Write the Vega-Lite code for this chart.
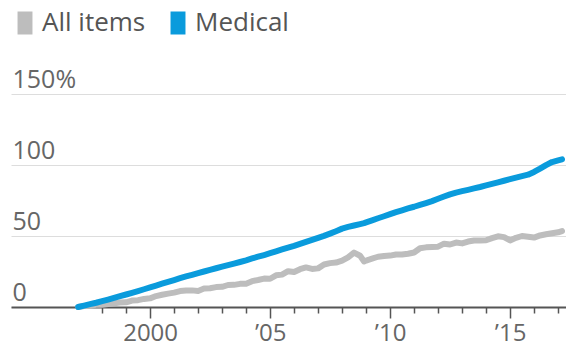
{
  "$schema": "https://vega.github.io/schema/vega-lite/v6.json",
  "width": 555,
  "height": 213,
  "autosize": {"type": "none"},
  "padding": {"left": 11, "top": 94, "right": 0, "bottom": 39},
  "background": "#ffffff",
  "config": {
    "view": {"stroke": null},
    "font": "Open Sans"
  },
  "data": {
    "values": [
      {"date": "1997-01-01", "All items": 0.0, "Medical": 0.0},
      {"date": "1997-04-01", "All items": 0.7, "Medical": 1.0},
      {"date": "1997-07-01", "All items": 0.9, "Medical": 2.0},
      {"date": "1997-10-01", "All items": 1.6, "Medical": 3.0},
      {"date": "1998-01-01", "All items": 1.6, "Medical": 4.1},
      {"date": "1998-04-01", "All items": 2.1, "Medical": 5.2},
      {"date": "1998-07-01", "All items": 2.6, "Medical": 6.4},
      {"date": "1998-10-01", "All items": 3.1, "Medical": 7.6},
      {"date": "1999-01-01", "All items": 3.3, "Medical": 8.8},
      {"date": "1999-04-01", "All items": 4.5, "Medical": 10.0},
      {"date": "1999-07-01", "All items": 4.8, "Medical": 11.2},
      {"date": "1999-10-01", "All items": 5.7, "Medical": 12.5},
      {"date": "2000-01-01", "All items": 6.1, "Medical": 13.8},
      {"date": "2000-04-01", "All items": 7.7, "Medical": 15.1},
      {"date": "2000-07-01", "All items": 8.6, "Medical": 16.4},
      {"date": "2000-10-01", "All items": 9.4, "Medical": 17.7},
      {"date": "2001-01-01", "All items": 10.1, "Medical": 19.0},
      {"date": "2001-04-01", "All items": 11.2, "Medical": 20.3},
      {"date": "2001-07-01", "All items": 11.6, "Medical": 21.5},
      {"date": "2001-10-01", "All items": 11.7, "Medical": 22.7},
      {"date": "2002-01-01", "All items": 11.3, "Medical": 23.9},
      {"date": "2002-04-01", "All items": 13.0, "Medical": 25.0},
      {"date": "2002-07-01", "All items": 13.2, "Medical": 26.2},
      {"date": "2002-10-01", "All items": 14.0, "Medical": 27.3},
      {"date": "2003-01-01", "All items": 14.2, "Medical": 28.4},
      {"date": "2003-04-01", "All items": 15.5, "Medical": 29.5},
      {"date": "2003-07-01", "All items": 15.6, "Medical": 30.6},
      {"date": "2003-10-01", "All items": 16.3, "Medical": 31.7},
      {"date": "2004-01-01", "All items": 16.4, "Medical": 32.9},
      {"date": "2004-04-01", "All items": 18.2, "Medical": 34.2},
      {"date": "2004-07-01", "All items": 19.0, "Medical": 35.4},
      {"date": "2004-10-01", "All items": 20.0, "Medical": 36.6},
      {"date": "2005-01-01", "All items": 19.9, "Medical": 37.9},
      {"date": "2005-04-01", "All items": 22.3, "Medical": 39.2},
      {"date": "2005-07-01", "All items": 22.8, "Medical": 40.5},
      {"date": "2005-10-01", "All items": 25.2, "Medical": 41.8},
      {"date": "2006-01-01", "All items": 24.6, "Medical": 43.1},
      {"date": "2006-04-01", "All items": 26.6, "Medical": 44.5},
      {"date": "2006-07-01", "All items": 27.9, "Medical": 45.9},
      {"date": "2006-10-01", "All items": 26.8, "Medical": 47.3},
      {"date": "2007-01-01", "All items": 27.2, "Medical": 48.7},
      {"date": "2007-04-01", "All items": 29.9, "Medical": 50.1},
      {"date": "2007-07-01", "All items": 30.9, "Medical": 51.7},
      {"date": "2007-10-01", "All items": 31.3, "Medical": 53.4},
      {"date": "2008-01-01", "All items": 32.7, "Medical": 55.2},
      {"date": "2008-04-01", "All items": 35.0, "Medical": 56.4},
      {"date": "2008-07-01", "All items": 38.3, "Medical": 57.4},
      {"date": "2008-10-01", "All items": 36.1, "Medical": 58.4},
      {"date": "2008-12-01", "All items": 32.1, "Medical": 59.1},
      {"date": "2009-01-01", "All items": 32.7, "Medical": 59.6},
      {"date": "2009-04-01", "All items": 34.0, "Medical": 61.0},
      {"date": "2009-07-01", "All items": 35.4, "Medical": 62.5},
      {"date": "2009-10-01", "All items": 35.9, "Medical": 63.9},
      {"date": "2010-01-01", "All items": 36.2, "Medical": 65.4},
      {"date": "2010-04-01", "All items": 37.0, "Medical": 66.8},
      {"date": "2010-07-01", "All items": 37.0, "Medical": 68.1},
      {"date": "2010-10-01", "All items": 37.5, "Medical": 69.4},
      {"date": "2011-01-01", "All items": 38.4, "Medical": 70.6},
      {"date": "2011-04-01", "All items": 41.4, "Medical": 71.9},
      {"date": "2011-07-01", "All items": 42.0, "Medical": 73.2},
      {"date": "2011-10-01", "All items": 42.3, "Medical": 74.6},
      {"date": "2012-01-01", "All items": 42.5, "Medical": 76.2},
      {"date": "2012-04-01", "All items": 44.6, "Medical": 77.8},
      {"date": "2012-07-01", "All items": 44.0, "Medical": 79.3},
      {"date": "2012-10-01", "All items": 45.4, "Medical": 80.6},
      {"date": "2013-01-01", "All items": 44.8, "Medical": 81.6},
      {"date": "2013-04-01", "All items": 46.1, "Medical": 82.5},
      {"date": "2013-07-01", "All items": 46.8, "Medical": 83.5},
      {"date": "2013-10-01", "All items": 46.8, "Medical": 84.5},
      {"date": "2014-01-01", "All items": 47.0, "Medical": 85.6},
      {"date": "2014-04-01", "All items": 48.5, "Medical": 86.7},
      {"date": "2014-07-01", "All items": 49.8, "Medical": 87.8},
      {"date": "2014-10-01", "All items": 49.2, "Medical": 88.9},
      {"date": "2015-01-01", "All items": 46.9, "Medical": 90.0},
      {"date": "2015-04-01", "All items": 48.7, "Medical": 91.1},
      {"date": "2015-07-01", "All items": 50.0, "Medical": 92.2},
      {"date": "2015-10-01", "All items": 49.5, "Medical": 93.2},
      {"date": "2016-01-01", "All items": 48.9, "Medical": 95.1},
      {"date": "2016-04-01", "All items": 50.4, "Medical": 97.4},
      {"date": "2016-07-01", "All items": 51.2, "Medical": 99.9},
      {"date": "2016-10-01", "All items": 51.9, "Medical": 102.1},
      {"date": "2017-01-01", "All items": 52.6, "Medical": 103.3},
      {"date": "2017-03-01", "All items": 53.5, "Medical": 104.0}
    ]
  },
  "transform": [
    {"fold": ["All items", "Medical"], "as": ["series", "pct"]}
  ],
  "mark": {"type": "line", "strokeWidth": 6, "strokeJoin": "round", "strokeCap": "round"},
  "encoding": {
    "x": {
      "field": "date",
      "type": "temporal",
      "scale": {
        "type": "utc",
        "domain": [{"year": 1994, "month": 3, "date": 16, "utc": true}, {"year": 2017, "month": 5, "date": 1, "utc": true}]
      },
      "axis": {
        "title": null,
        "grid": false,
        "values": [
          {"year": 1998, "utc": true}, {"year": 1999, "utc": true}, {"year": 2000, "utc": true},
          {"year": 2001, "utc": true}, {"year": 2002, "utc": true}, {"year": 2003, "utc": true},
          {"year": 2004, "utc": true}, {"year": 2005, "utc": true}, {"year": 2006, "utc": true},
          {"year": 2007, "utc": true}, {"year": 2008, "utc": true}, {"year": 2009, "utc": true},
          {"year": 2010, "utc": true}, {"year": 2011, "utc": true}, {"year": 2012, "utc": true},
          {"year": 2013, "utc": true}, {"year": 2014, "utc": true}, {"year": 2015, "utc": true},
          {"year": 2016, "utc": true}, {"year": 2017, "utc": true}
        ],
        "labelExpr": "utcyear(datum.value) === 2000 ? '2000' : (utcyear(datum.value) % 5 === 0 ? '\u2019' + utcFormat(datum.value, '%y') : '')",
        "labelFontSize": 24,
        "labelColor": "#666666",
        "labelPadding": 3,
        "labelFlush": false,
        "labelOverlap": false,
        "domainColor": "#555555",
        "domainWidth": 2,
        "tickColor": "#555555",
        "tickWidth": 1.5,
        "tickSize": {"condition": {"test": "utcyear(datum.value) % 5 === 0", "value": 11}, "value": 6}
      }
    },
    "y": {
      "field": "pct",
      "type": "quantitative",
      "scale": {"domain": [0, 150], "nice": false},
      "axis": {
        "title": null,
        "values": [0, 50, 100, 150],
        "domain": false,
        "ticks": false,
        "grid": true,
        "gridColor": "#dddddd",
        "gridWidth": 1,
        "labelExpr": "datum.value === 150 ? '150%' : datum.value === 100 ? '100' : datum.value === 50 ? '\u200750' : '\u2007\u20070'",
        "labelAlign": "left",
        "labelBaseline": "alphabetic",
        "labelPadding": -1,
        "labelOffset": -7,
        "labelFontSize": 25,
        "labelColor": "#666666"
      }
    },
    "color": {
      "field": "series",
      "type": "nominal",
      "scale": {"domain": ["All items", "Medical"], "range": ["#bdbdbd", "#0a9bdc"]},
      "legend": {
        "title": null,
        "orient": "none",
        "direction": "horizontal",
        "legendX": 1,
        "legendY": -84,
        "symbolType": "M-0.65,-1H0.65V1H-0.65Z",
        "symbolSize": 529,
        "symbolStrokeWidth": 0,
        "symbolOpacity": 1,
        "labelFontSize": 26,
        "labelColor": "#555555",
        "labelOffset": 4,
        "columnPadding": 19,
        "encode": {
          "symbols": {
            "update": {
              "shape": {"value": "M-0.65,-1H0.65V1H-0.65Z"},
              "size": {"value": 529},
              "fill": {"scale": "color", "field": "value"},
              "fillOpacity": {"value": 1},
              "strokeWidth": {"value": 0}
            }
          }
        }
      }
    }
  }
}
